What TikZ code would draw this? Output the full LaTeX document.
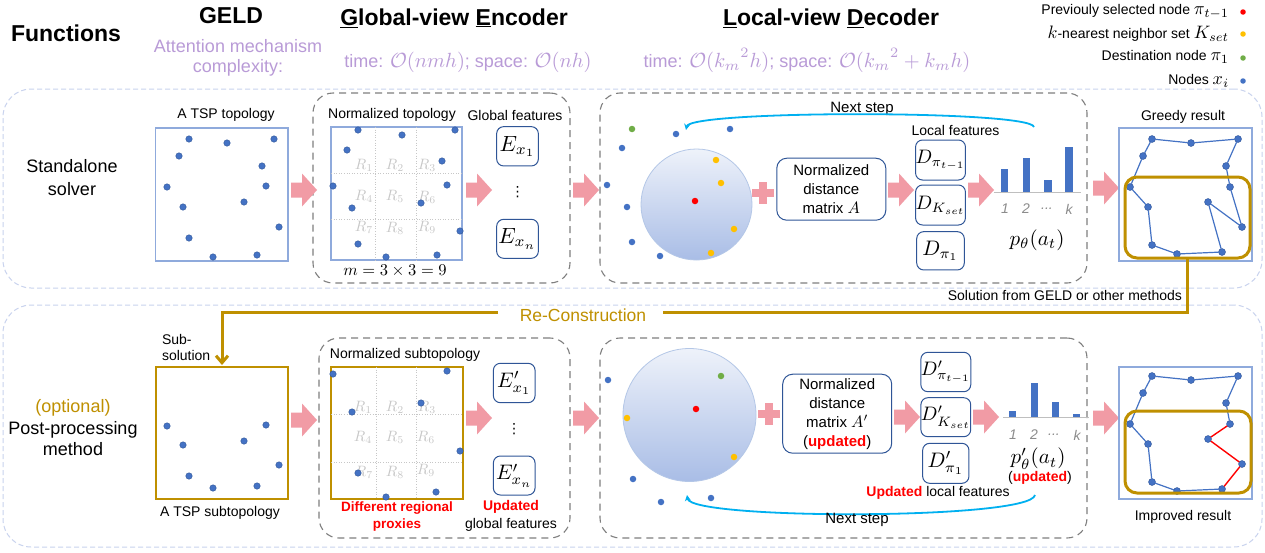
\documentclass[tikz,border=0pt]{standalone}
\usepackage{graphicx}
\usepackage{fontspec}
\setmainfont{Liberation Sans}
\newfontfamily\djv{DejaVu Sans}
\usetikzlibrary{arrows.meta}
\definecolor{nodeblue}{HTML}{4472C4}
\definecolor{nodeedge}{HTML}{2F5597}
\definecolor{boxblue}{HTML}{8FAADC}
\definecolor{panelblue}{HTML}{C9D3EE}
\definecolor{dashgray}{HTML}{7F7F7F}
\definecolor{gold}{HTML}{BF9000}
\definecolor{pinkc}{HTML}{F19BA5}
\definecolor{purp}{RGB}{185,155,215}
\definecolor{arcblue}{HTML}{00B0F0}
\definecolor{ylw}{HTML}{FFC000}
\definecolor{grn}{HTML}{70AD47}
\definecolor{rlab}{HTML}{C8C8C8}
\definecolor{axgray}{HTML}{BFBFBF}
\definecolor{ticklab}{HTML}{8C8C8C}
\definecolor{ballfill}{HTML}{A9BDE6}
\definecolor{balltop}{HTML}{EEF2FA}
\definecolor{balledge}{HTML}{B4C7E7}
\newcommand\fsz[2]{\fontsize{#1}{#2}\selectfont}
% scaled math from a 10pt design size
\newcommand\sm[2]{\scalebox{#1}{\fsz{10}{12}$#2$}}
\begin{document}
\begin{tikzpicture}[x=1pt,y=-1pt,
  every node/.style={inner sep=0pt,outer sep=0pt},
  tspdot/.style={circle,fill=nodeblue,draw=nodeedge,line width=0.4pt,minimum size=6.5pt},
  tourdot/.style={circle,fill=nodeblue,draw=nodeedge,line width=0.4pt,minimum size=7pt},
  cdot/.style={circle,fill=#1,minimum size=6.5pt},
  outerpanel/.style={draw=panelblue,line width=1pt,rounded corners=28pt,dash pattern=on 5pt off 3pt},
  innerpanel/.style={draw=dashgray,line width=1.1pt,rounded corners=20pt,dash pattern=on 7pt off 5pt},
  topobox/.style={draw=boxblue,line width=1.2pt,fill=white},
  gtopobox/.style={draw=gold,line width=1.5pt,fill=white},
  featbox/.style={draw=nodeedge,line width=1pt,rounded corners=7pt,fill=white},
  goldframe/.style={draw=gold,line width=3pt,rounded corners=12pt},
  gridln/.style={draw=black!22,dotted,line width=0.6pt},
  rl/.style={text=rlab},
  lbl/.style={font=\fsz{14}{16}},
  vdot/.style={font=\djv\fsz{14}{16}},
  tourline/.style={draw=nodeblue,line width=1.2pt},
  arcline/.style={draw=arcblue,line width=1.8pt,-{Stealth[length=6pt,width=6pt]}},
  goldline/.style={draw=gold,line width=3pt},
  pinkarrow/.pic={\fill[pinkc] (0,-7.5) -- (11,-7.5) -- (11,-16.5) -- (26,0) -- (11,16.5) -- (11,7.5) -- (0,7.5) -- cycle;},
  plussign/.pic={\fill[pinkc] (-11,-4) rectangle (11,4); \fill[pinkc] (-4,-11) rectangle (4,11);}
]
\useasboundingbox (0,0) rectangle (1265,552);
\fill[white] (0,0) rectangle (1265,552);

% ---------- header ----------
\node[font=\fsz{23}{26}\bfseries] (hfun) at (66,33) {Functions};
\node[font=\fsz{23}{26}\bfseries] (hgeld) at (231,16) {GELD};
\node[font=\fsz{18}{20.5},text=purp,align=center] (hatt) at (238,58) {Attention mechanism\\complexity:};
\node[font=\fsz{23}{26}\bfseries] (henc) at (454,18) {\underline{G}lobal-view \underline{E}ncoder};
\node[font=\fsz{18}{20},text=purp,anchor=base] (htenc) at (468,67) {time: \sm{2.05}{\mathcal{O}(nmh)}; space: \sm{2.05}{\mathcal{O}(nh)}};
\node[font=\fsz{23}{26}\bfseries] (hdec) at (831,18) {\underline{L}ocal-view \underline{D}ecoder};
\node[font=\fsz{18}{20},text=purp,anchor=base] (htdec) at (807,67) {time: \sm{2.05}{\mathcal{O}({k_m}^2h)}; space: \sm{2.05}{\mathcal{O}({k_m}^2+k_mh)}};

\node[lbl,anchor=east] (lg1) at (1229,12) {Previouly selected node \sm{1.8}{\pi_{t-1}}};
\node[lbl,anchor=east] (lg2) at (1229,34) {\sm{1.8}{k}-nearest neighbor set \sm{1.8}{K_{set}}};
\node[lbl,anchor=east] (lg3) at (1229,57) {Destination node \sm{1.8}{\pi_1}};
\node[lbl,anchor=east] (lg4) at (1229,81) {Nodes \sm{1.8}{x_i}};
\node[cdot=red,minimum size=5.5pt] (ld1) at (1243,12) {};
\node[cdot=ylw,minimum size=5.5pt] (ld2) at (1243,34) {};
\node[cdot=grn,minimum size=5.5pt] (ld3) at (1243,58) {};
\node[cdot=nodeblue,minimum size=5.5pt] (ld4) at (1243,81) {};

% ---------- panels ----------
\node[outerpanel,minimum width=1259pt,minimum height=199pt] (ptop) at (632.5,188.5) {};
\node[outerpanel,minimum width=1259pt,minimum height=242pt] (pbot) at (632.5,426) {};
\node[innerpanel,minimum width=257pt,minimum height=190pt] (encT) at (441.5,188) {};
\node[innerpanel,minimum width=487pt,minimum height=190pt] (decT) at (843.5,188) {};
\node[innerpanel,minimum width=251pt,minimum height=200pt] (encB) at (444.5,438) {};
\node[innerpanel,minimum width=487pt,minimum height=200pt] (decB) at (843.5,438) {};

\node[font=\fsz{18}{23},align=center] (rowA) at (72,178) {Standalone\\solver};
\node[font=\fsz{18}{21.5},align=center] (rowB) at (73,428) {\textcolor{gold}{(optional)}\\Post-processing\\method};

% ---------- top row: topology ----------
\node[lbl] (ltsp) at (226,115) {A TSP topology};
\node[topobox,minimum width=132.5pt,minimum height=133pt] (tspT) at (221.75,194.5) {};
\foreach \p [count=\i] in {(189,139),(227,143),(274,139),(179,156),(262,166),(167,187),(266,186),(183,207),(244,202),(279,227),(189,238),(257,255),(213,257)}
  \node[tspdot] (ta\i) at \p {};
\pic (pa1) at (291,190) {pinkarrow};

% encoder top
\node[lbl] (lnorm) at (392,115) {Normalized topology};
\node[lbl] (lglob) at (515,115) {Global features};
\node[topobox,minimum width=131pt,minimum height=133pt] (normT) at (396.5,193.5) {};
\draw[gridln] (375.7,127) -- (375.7,260) (416.7,127) -- (416.7,260) (331,173) -- (462,173) (331,219) -- (462,219);
\node[rl] (r1) at (364,165) {\sm{1.5}{R_1}}; \node[rl] (r2) at (395,165) {\sm{1.5}{R_2}}; \node[rl] (r3) at (427,165) {\sm{1.5}{R_3}};
\node[rl] (r4) at (364,196) {\sm{1.5}{R_4}}; \node[rl] (r5) at (395,196) {\sm{1.5}{R_5}}; \node[rl] (r6) at (427,197) {\sm{1.5}{R_6}};
\node[rl] (r7) at (364,227) {\sm{1.5}{R_7}}; \node[rl] (r8) at (395,228) {\sm{1.5}{R_8}}; \node[rl] (r9) at (427,227) {\sm{1.5}{R_9}};
\foreach \p [count=\i] in {(358,130),(402,135),(455,130),(347,150),(442,161),(333,186),(447,185),(352,208),(421,203),(460,231),(358,244),(386,257),(437,255)}
  \node[tspdot] (tb\i) at \p {};
\node (mlab) at (395,271) {\sm{1.65}{m=3\times3=9}};
\pic (pa2) at (466,190) {pinkarrow};
\node[featbox,minimum width=41.7pt,minimum height=39.3pt] (E1) at (517.5,146.3) {\sm{2.2}{E_{x_1}}};
\node[vdot] (Ed) at (517.5,192) {⋮};
\node[featbox,minimum width=41.7pt,minimum height=39pt] (En) at (517.5,238.8) {\sm{2.2}{E_{x_n}}};
\pic (pa3) at (573,190) {pinkarrow};

% decoder top
\node[font=\fsz{15}{17}] (nsT) at (862,109) {Next step};
\coordinate (arcTR) at (1034,127);
\coordinate (arcTL) at (686,130);
\draw[arcline] (arcTR) .. controls (1031,110) and (690,110) .. (arcTL);
\node[circle,minimum size=111pt,top color=balltop,bottom color=ballfill,draw=balledge,line width=0.8pt] (ballT) at (696.5,204.5) {};
\foreach \p [count=\i] in {(676,134),(730,129),(622,148),(607,185),(627,207),(632,242),(660,256)}
  \node[cdot=nodeblue] (dbT\i) at \p {};
\node[cdot=grn] (dgT) at (632,129) {};
\foreach \p [count=\i] in {(716,160),(721,183),(734,229),(711,253)}
  \node[cdot=ylw] (dyT\i) at \p {};
\node[cdot=red] (drT) at (695,201) {};
\pic (plT) at (763,193) {plussign};
\node[featbox,rounded corners=10pt,minimum width=109pt,minimum height=62pt,font=\fsz{15}{19},align=center] (matT) at (831.3,189.2) {Normalized\\distance\\matrix \sm{1.65}{A}};
\pic (pa4) at (888,190) {pinkarrow};
\node[lbl] (llocT) at (955.5,130) {Local features};
\node[featbox,minimum width=47.6pt,minimum height=40pt] (D1) at (940.5,160) {\sm{1.95}{D_{\pi_{t-1}}}};
\node[featbox,minimum width=47.6pt,minimum height=40pt] (D2) at (940.5,205) {\sm{1.95}{D_{K_{set}}}};
\node[featbox,minimum width=47.6pt,minimum height=38.3pt] (D3) at (940.5,250.8) {\sm{2.1}{D_{\pi_1}}};
\pic (pa5) at (968,190) {pinkarrow};
\fill[nodeblue] (1000.7,169) rectangle (1008.3,192);
\fill[nodeblue] (1022.7,157.7) rectangle (1030,192);
\fill[nodeblue] (1044,180) rectangle (1051.7,192);
\fill[nodeblue] (1065,146.7) rectangle (1072.5,192);
\draw[axgray,line width=1.5pt] (994,192.5) -- (1081,192.5);
\node[font=\fsz{14}{16}\itshape,text=ticklab] (tk1) at (1005,209) {1};
\node[font=\fsz{14}{16}\itshape,text=ticklab] (tk2) at (1026,209) {2};
\node[font=\fsz{14}{16}\itshape,text=ticklab] (tk3) at (1047,209) {...};
\node[font=\fsz{14}{16}\itshape,text=ticklab] (tk4) at (1069,209) {k};
\node (pT) at (1037,240) {\sm{2.1}{p_\theta(a_t)}};
\pic (pa6) at (1093,188) {pinkarrow};

% greedy result
\node[lbl] (lgr) at (1183,117) {Greedy result};
\node[topobox,minimum width=133pt,minimum height=133pt] (grT) at (1185.5,194.5) {};
\foreach \p [count=\i] in {(1152,139),(1191,143),(1238,139),(1226,166),(1230,187),(1242,227),(1208,202),(1222,252),(1177,254),(1152,245),(1148,207),(1130,187),(1143,156)}
  \node[tourdot] (g\i) at \p {};
\draw[tourline] (g1)--(g2)--(g3)--(g4)--(g5)--(g6)--(g7)--(g8)--(g9)--(g10)--(g11)--(g12)--(g13)--(g1);
\node[goldframe,minimum width=125pt,minimum height=81pt] (gfT) at (1187.5,217.5) {};

% ---------- re-construction connector ----------
\node[lbl,anchor=east] (lsol) at (1182,295) {Solution from GELD or other methods};
\node[font=\fsz{17.5}{20},text=gold] (recon) at (583,315) {Re-Construction};
\coordinate (rcR) at (663,312);
\coordinate (rcL) at (498,312);
\draw[goldline] (gfT.south) |- (rcR);

% ---------- bottom row ----------
\node[lbl,align=left,anchor=west] (lsub) at (162,347) {Sub-\\solution};
\node[gtopobox,minimum width=132pt,minimum height=132pt] (subT) at (222,433) {};
\draw[goldline,-{Straight Barb[length=7pt,width=12pt]}] (rcL) -| ([yshift=2pt]subT.north);
\foreach \p [count=\i] in {(167,426),(183,445),(244,441),(266,425),(279,465),(189,476),(257,486),(213,488)}
  \node[tspdot] (sa\i) at \p {};
\node[lbl] (lsubt) at (220,513) {A TSP subtopology};
\pic (pb1) at (291,420) {pinkarrow};

\node[lbl] (lnsub) at (405,355) {Normalized subtopology};
\node[gtopobox,minimum width=132pt,minimum height=132pt] (normB) at (397,433) {};
\draw[gridln] (376,367) -- (376,499) (416,367) -- (416,499) (331,414) -- (463,414) (331,462) -- (463,462);
\node[rl] (s1) at (363,407) {\sm{1.5}{R_1}}; \node[rl] (s2) at (395,407) {\sm{1.5}{R_2}}; \node[rl] (s3) at (427,407) {\sm{1.5}{R_3}};
\node[rl] (s4) at (363,437) {\sm{1.5}{R_4}}; \node[rl] (s5) at (395,437) {\sm{1.5}{R_5}}; \node[rl] (s6) at (426,437) {\sm{1.5}{R_6}};
\node[rl] (s7) at (364,472) {\sm{1.5}{R_7}}; \node[rl] (s8) at (395,472) {\sm{1.5}{R_8}}; \node[rl] (s9) at (426,470) {\sm{1.5}{R_9}};
\foreach \p [count=\i] in {(333,374),(447,371),(352,412),(421,403),(460,451),(358,473),(386,497),(436,492)}
  \node[tspdot] (sb\i) at \p {};
\node[font=\fsz{13.5}{17}\bfseries,text=red,align=center] (ldiff) at (397,516) {Different regional\\proxies};
\node[font=\fsz{14}{18},align=center] (lupd) at (511,516) {\textcolor{red}{\bfseries Updated}\\global features};
\pic (pb2) at (466,418) {pinkarrow};
\node[featbox,minimum width=41.7pt,minimum height=39.4pt] (F1) at (514.2,383) {\sm{2.1}{E'_{x_1}}};
\node[vdot] (Fd) at (514,429) {⋮};
\node[featbox,minimum width=41.7pt,minimum height=39pt] (Fn) at (514.2,475.5) {\sm{2.1}{E'_{x_n}}};
\pic (pb3) at (573,418) {pinkarrow};

% decoder bottom
\node[circle,minimum size=133pt,top color=balltop,bottom color=ballfill,draw=balledge,line width=0.8pt] (ballB) at (689.5,415) {};
\foreach \p [count=\i] in {(608,380),(633,479),(661,502),(711,498)}
  \node[cdot=nodeblue] (dbB\i) at \p {};
\node[cdot=grn] (dgB) at (721,376) {};
\node[cdot=ylw] (dyB1) at (627,418) {};
\node[cdot=ylw] (dyB2) at (734,457) {};
\node[cdot=red] (drB) at (696,409) {};
\pic (plB) at (769,414) {plussign};
\node[featbox,rounded corners=10pt,minimum width=109pt,minimum height=79pt,font=\fsz{15}{19},align=center] (matB) at (837.2,413.7) {Normalized\\distance\\matrix \sm{1.65}{A'}\\(\textcolor{red}{\bfseries updated})};
\pic (pb4) at (894,417) {pinkarrow};
\node[featbox,minimum width=46.3pt,minimum height=39.4pt] (G1) at (945.8,372) {\sm{1.95}{D'_{\pi_{t-1}}}};
\node[featbox,minimum width=46.3pt,minimum height=39pt] (G2) at (945.8,417.2) {\sm{1.95}{D'_{K_{set}}}};
\node[featbox,minimum width=46.3pt,minimum height=40pt] (G3) at (945.8,463.3) {\sm{2.1}{D'_{\pi_1}}};
\pic (pb5) at (973,417) {pinkarrow};
\fill[nodeblue] (1009,411) rectangle (1016,417);
\fill[nodeblue] (1031,383) rectangle (1037.5,417);
\fill[nodeblue] (1052,402) rectangle (1059,417);
\fill[nodeblue] (1073,414) rectangle (1080,417);
\draw[axgray,line width=1.5pt] (1003,417.5) -- (1089,417.5);
\node[font=\fsz{14}{16}\itshape,text=ticklab] (uk1) at (1013,435) {1};
\node[font=\fsz{14}{16}\itshape,text=ticklab] (uk2) at (1034,435) {2};
\node[font=\fsz{14}{16}\itshape,text=ticklab] (uk3) at (1054,435) {...};
\node[font=\fsz{14}{16}\itshape,text=ticklab] (uk4) at (1077,435) {k};
\node (pB) at (1038,459) {\sm{2.1}{p'_\theta(a_t)}};
\node[lbl] (pBu) at (1040,478) {(\textcolor{red}{\bfseries updated})};
\node[lbl] (llocB) at (938,493) {\textcolor{red}{\bfseries Updated} local features};
\coordinate (arcBR) at (1035,495);
\coordinate (arcBL) at (687,495);
\draw[arcline] (arcBR) .. controls (1031,520) and (691,520) .. (arcBL);
\node[font=\fsz{15}{17}] (nsB) at (857,520) {Next step};
\pic (pb6) at (1093,418) {pinkarrow};

% improved result
\node[lbl] (limp) at (1183,517) {Improved result};
\node[topobox,minimum width=133pt,minimum height=132pt] (imB) at (1185.5,433) {};
\foreach \p [count=\i] in {(1152,376),(1191,380),(1238,376),(1226,403),(1230,424),(1242,464),(1208,439),(1222,489),(1177,491),(1152,482),(1148,444),(1130,424),(1143,393)}
  \node[tourdot] (h\i) at \p {};
\draw[tourline] (h8)--(h9)--(h10)--(h11)--(h12)--(h13)--(h1)--(h2)--(h3)--(h4)--(h5);
\draw[red,line width=1.4pt] (h5)--(h7)--(h6)--(h8);
\node[goldframe,minimum width=126pt,minimum height=82pt] (gfB) at (1188,452) {};
\end{tikzpicture}
\end{document}
